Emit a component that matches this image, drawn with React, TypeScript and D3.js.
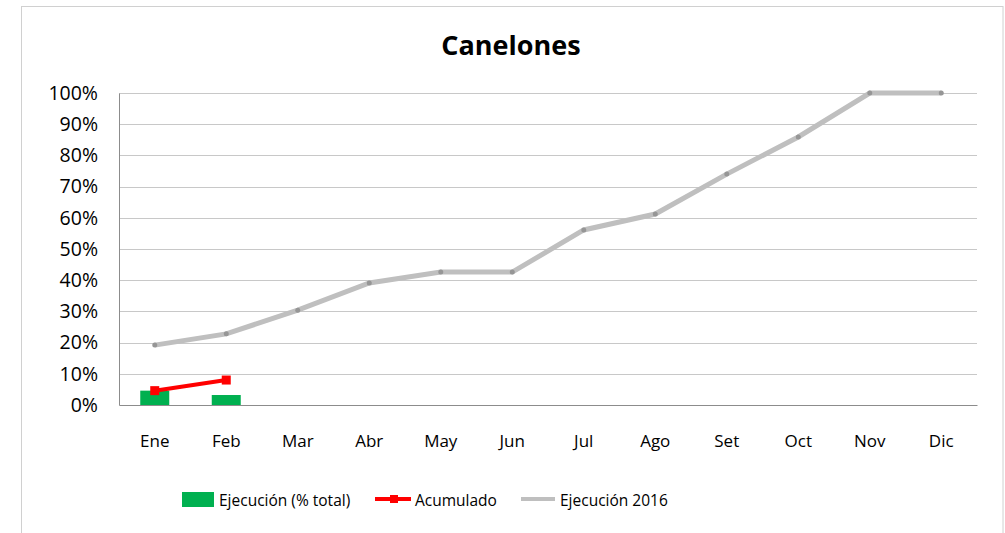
import { useEffect, useRef } from 'react';
import * as d3 from 'd3';

const MONTHS = ['Ene', 'Feb', 'Mar', 'Abr', 'May', 'Jun', 'Jul', 'Ago', 'Set', 'Oct', 'Nov', 'Dic'];
const EJECUCION = [4.6, 3.2];
const ACUMULADO = [4.6, 8.0];
const EJECUCION_2016 = [19.2, 22.8, 30.4, 39.1, 42.6, 42.6, 56.1, 61.2, 74.0, 85.9, 100, 100];
const Y_TICKS = [0, 10, 20, 30, 40, 50, 60, 70, 80, 90, 100];

const FONT = '"Open Sans", Lato, sans-serif';

export default function App() {
  const svgRef = useRef<SVGSVGElement>(null);

  useEffect(() => {
    const svg = d3.select(svgRef.current);
    svg.selectAll('*').remove();

    const width = 1005;
    const height = 533;
    const margin = { top: 93, right: 28, bottom: 128, left: 119 };

    // chart frame
    svg.append('rect')
      .attr('x', 21.5).attr('y', 6.5)
      .attr('width', 981.5).attr('height', 540)
      .attr('fill', '#fff')
      .attr('stroke', '#d0d0d0');

    svg.append('text')
      .attr('x', 511).attr('y', 55)
      .attr('text-anchor', 'middle')
      .attr('font-family', FONT)
      .attr('font-size', 27)
      .attr('font-weight', 'bold')
      .text('Canelones');

    const x = d3.scaleBand().domain(MONTHS).range([margin.left, width - margin.right]);
    const y = d3.scaleLinear().domain([0, 100]).range([height - margin.bottom, margin.top]);
    const cx = (m: string) => (x(m) ?? 0) + x.bandwidth() / 2;

    // gridlines
    svg.append('g')
      .selectAll('line')
      .data(Y_TICKS.slice(1))
      .join('line')
      .attr('x1', margin.left).attr('x2', width - margin.right)
      .attr('y1', d => Math.round(y(d)) + 0.5).attr('y2', d => Math.round(y(d)) + 0.5)
      .attr('stroke', '#c8c8c8');

    // y axis
    svg.append('g')
      .attr('transform', `translate(${margin.left}, 0)`)
      .call(d3.axisLeft(y).tickValues(Y_TICKS).tickFormat(d => `${d}%`).tickSize(0).tickPadding(21))
      .call(g => g.select('.domain').attr('stroke', '#8c8c8c'))
      .call(g => g.selectAll('text').attr('font-family', FONT).attr('font-size', 19.5).attr('fill', '#000'));

    // x axis
    svg.append('g')
      .attr('transform', `translate(0, ${height - margin.bottom})`)
      .call(d3.axisBottom(x).tickSize(0).tickPadding(30))
      .call(g => g.select('.domain').attr('stroke', '#8c8c8c'))
      .call(g => g.selectAll('text').attr('font-family', FONT).attr('font-size', 17).attr('fill', '#000'));

    // bars
    const barW = 29;
    svg.append('g')
      .selectAll('rect')
      .data(EJECUCION)
      .join('rect')
      .attr('x', (_, i) => cx(MONTHS[i]) - barW / 2)
      .attr('y', d => y(d))
      .attr('width', barW)
      .attr('height', d => y(0) - y(d))
      .attr('fill', '#00b050');

    // 2016 line
    const line = d3.line<number>()
      .x((_, i) => cx(MONTHS[i]))
      .y(d => y(d));

    svg.append('path')
      .datum(EJECUCION_2016)
      .attr('d', line)
      .attr('fill', 'none')
      .attr('stroke', '#bfbfbf')
      .attr('stroke-width', 5);

    svg.append('g')
      .selectAll('circle')
      .data(EJECUCION_2016)
      .join('circle')
      .attr('cx', (_, i) => cx(MONTHS[i]))
      .attr('cy', d => y(d))
      .attr('r', 2.5)
      .attr('fill', '#969696');

    // acumulado
    svg.append('path')
      .datum(ACUMULADO)
      .attr('d', line)
      .attr('fill', 'none')
      .attr('stroke', '#ff0000')
      .attr('stroke-width', 4);

    svg.append('g')
      .selectAll('rect')
      .data(ACUMULADO)
      .join('rect')
      .attr('x', (_, i) => cx(MONTHS[i]) - 4.5)
      .attr('y', d => y(d) - 4.5)
      .attr('width', 9)
      .attr('height', 9)
      .attr('fill', '#ff0000');

    // legend
    const lg = svg.append('g').attr('font-family', FONT).attr('font-size', 15.5);
    const ly = 499;
    lg.append('rect').attr('x', 182).attr('y', 492).attr('width', 32).attr('height', 15).attr('fill', '#00b050');
    lg.append('text').attr('x', 219).attr('y', ly + 7).text('Ejecución (% total)');
    lg.append('line').attr('x1', 375).attr('x2', 411).attr('y1', ly).attr('y2', ly)
      .attr('stroke', '#ff0000').attr('stroke-width', 4);
    lg.append('rect').attr('x', 390).attr('y', ly - 4).attr('width', 8).attr('height', 8).attr('fill', '#ff0000');
    lg.append('text').attr('x', 415).attr('y', ly + 7).text('Acumulado');
    lg.append('line').attr('x1', 521).attr('x2', 555).attr('y1', ly).attr('y2', ly)
      .attr('stroke', '#bfbfbf').attr('stroke-width', 4);
    lg.append('text').attr('x', 560).attr('y', ly + 7).text('Ejecución 2016');
  }, []);

  return (
    <div style={{ position: 'fixed', left: 0, top: 0, width: 1005, height: 533, background: '#fff' }}>
      <svg ref={svgRef} width={1005} height={533} style={{ display: 'block' }} />
    </div>
  );
}
